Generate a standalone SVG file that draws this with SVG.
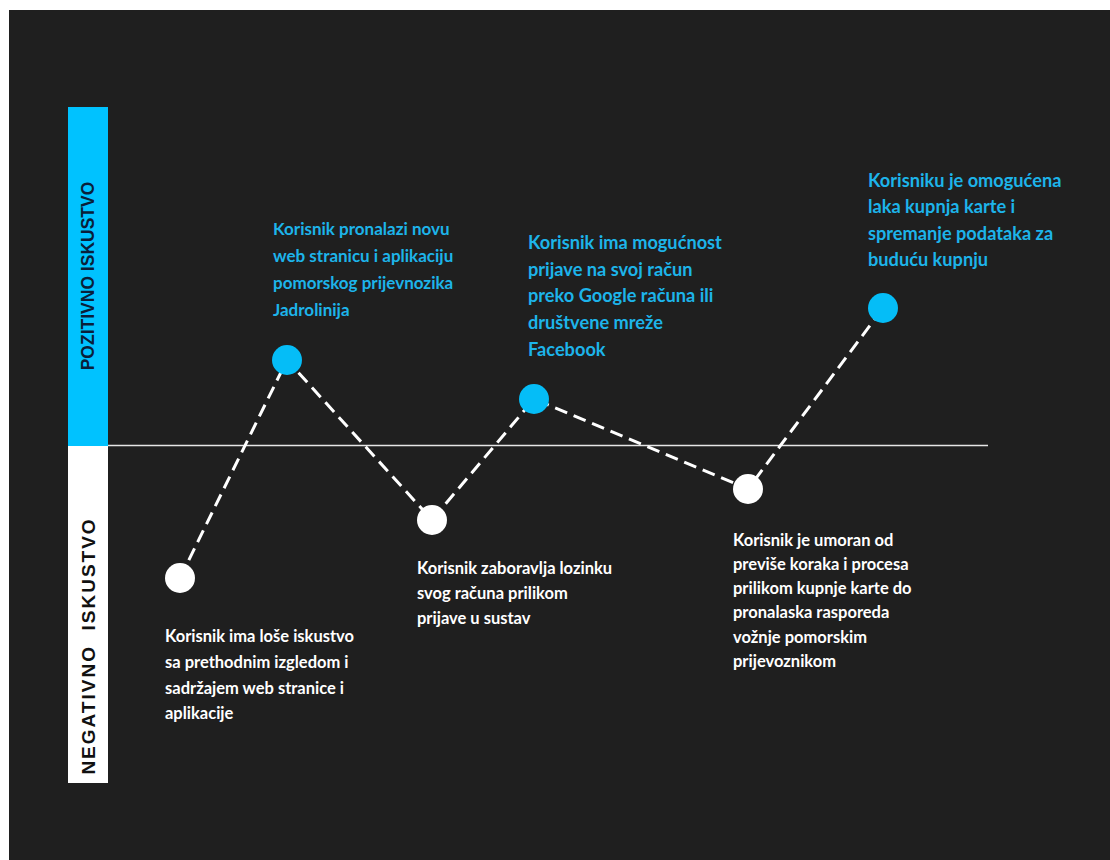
<svg xmlns="http://www.w3.org/2000/svg" width="1110" height="860" viewBox="0 0 1110 860">
<style>
.lbl{font-family:Lato,"Open Sans","Liberation Sans",sans-serif;font-weight:700;font-size:17px}
.big{font-size:18.2px}
.sm{font-size:16.5px}
.pos{fill:#1db4ea}
.neg{fill:#ffffff}
.axis{font-family:"Liberation Sans",Arial,sans-serif;font-size:17.5px;font-weight:700}
.conn{stroke:#ffffff;stroke-width:3;stroke-dasharray:13 7;fill:none}
.cp{fill:#05bdf7}
.cn{fill:#ffffff}
</style>
<rect x="0" y="0" width="1110" height="860" fill="#ffffff"/>
<rect x="9" y="10" width="1101" height="850" fill="#1f1f1f"/>
<g id="axis">
<rect x="68" y="107" width="40" height="339" fill="#00c2ff"/>
<rect x="68" y="446" width="40" height="337" fill="#ffffff"/>
<line x1="108" y1="445.5" x2="988" y2="445.5" stroke="#e6e6e6" stroke-width="1.5"/>
<text class="axis" fill="#0a1f3a" transform="translate(94,276) rotate(-90)" text-anchor="middle">POZITIVNO ISKUSTVO</text>
<text class="axis" fill="#111111" transform="translate(95,646) rotate(-90)" text-anchor="middle" style="font-size:19px" letter-spacing="2" xml:space="preserve">NEGATIVNO  ISKUSTVO</text>
</g>
<g id="connectors">
<polyline class="conn" points="180,578 287,360 432,520 534,399 748,489 883,308"/>
</g>
<g id="n1">
<circle class="cn" cx="180" cy="578" r="15"/>
<text class="lbl sm neg"><tspan x="165" y="642">Korisnik ima loše iskustvo</tspan><tspan x="165" y="668">sa prethodnim izgledom i</tspan><tspan x="165" y="694">sadržajem web stranice i</tspan><tspan x="165" y="719">aplikacije</tspan></text>
</g>
<g id="n2">
<circle class="cp" cx="287" cy="360" r="15"/>
<text class="lbl pos"><tspan x="273" y="235">Korisnik pronalazi novu</tspan><tspan x="273" y="262">web stranicu i aplikaciju</tspan><tspan x="273" y="289">pomorskog prijevnozika</tspan><tspan x="273" y="316">Jadrolinija</tspan></text>
</g>
<g id="n3">
<circle class="cn" cx="432" cy="520" r="15"/>
<text class="lbl sm neg"><tspan x="417" y="574">Korisnik zaboravlja lozinku</tspan><tspan x="417" y="599">svog računa prilikom</tspan><tspan x="417" y="624">prijave u sustav</tspan></text>
</g>
<g id="n4">
<circle class="cp" cx="534" cy="399" r="15"/>
<text class="lbl big pos"><tspan x="528" y="249">Korisnik ima mogućnost</tspan><tspan x="528" y="276">prijave na svoj račun</tspan><tspan x="528" y="302">preko Google računa ili</tspan><tspan x="528" y="329">društvene mreže</tspan><tspan x="528" y="356">Facebook</tspan></text>
</g>
<g id="n5">
<circle class="cn" cx="748" cy="489" r="15"/>
<text class="lbl sm neg"><tspan x="733" y="546">Korisnik je umoran od</tspan><tspan x="733" y="570">previše koraka i procesa</tspan><tspan x="733" y="594">prilikom kupnje karte do</tspan><tspan x="733" y="618">pronalaska rasporeda</tspan><tspan x="733" y="643">vožnje pomorskim</tspan><tspan x="733" y="667">prijevoznikom</tspan></text>
</g>
<g id="n6">
<circle class="cp" cx="883" cy="308" r="15"/>
<text class="lbl big pos"><tspan x="868" y="187">Korisniku je omogućena</tspan><tspan x="868" y="213">laka kupnja karte i</tspan><tspan x="868" y="240">spremanje podataka za</tspan><tspan x="868" y="266">buduću kupnju</tspan></text>
</g>
</svg>
